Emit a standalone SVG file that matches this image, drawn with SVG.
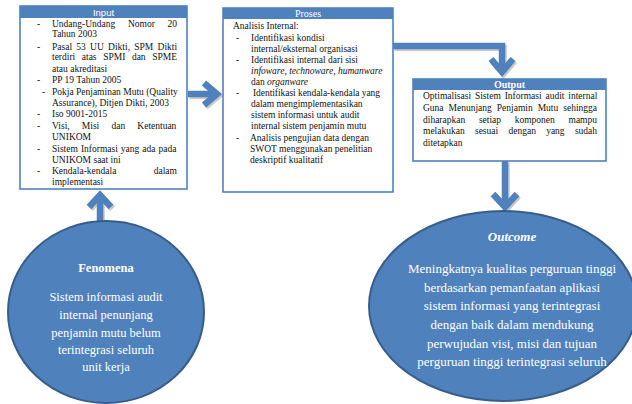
<svg xmlns="http://www.w3.org/2000/svg" width="632" height="404" viewBox="0 0 632 404">
  <style>
    .box { fill: #ffffff; stroke: #4f81bd; stroke-width: 1.6; }
    .hdr { fill: #4f81bd; }
    .ht { font-family: "Liberation Serif", serif; font-size: 10px; fill: #ffffff; text-anchor: middle; }
    .hs { font-family: "Liberation Sans", Arial, sans-serif; font-size: 9.5px; fill: #ffffff; text-anchor: middle; }
    .t { font-family: "Liberation Serif", serif; font-size: 9.5px; fill: #111111; }
    .e { text-anchor: end; }
    .i { font-style: italic; }
    .blob { fill: #4f81bd; stroke: #385d8a; stroke-width: 2; }
    .bt { font-family: "Liberation Serif", serif; font-size: 12.5px; fill: #ffffff; text-anchor: middle; }
    .ot { font-size: 13px; }
    .arr { fill: none; stroke: #4f81bd; stroke-width: 6.5; stroke-linejoin: miter; stroke-linecap: butt; }
    .sh { fill: none; stroke: #9a9a9a; stroke-opacity: 0.55; stroke-width: 6.5; stroke-linejoin: miter; }
  </style>

  <!-- connectors -->
  <g id="connectors">
    <g transform="translate(1.5,1.8)">
      <path class="sh" d="M188,94 H215"/>
      <path class="sh" d="M204,83 L217,94 L204,105"/>
      <path class="sh" d="M393,46 H502 V71"/>
      <path class="sh" d="M491,59 L502,72 L513,59"/>
      <path class="sh" d="M505,161 V206"/>
      <path class="sh" d="M493,194 L505,207 L517,194"/>
      <path class="sh" d="M100,222 V196"/>
      <path class="sh" d="M89,207 L100,195 L111,207"/>
    </g>
    <path class="arr" d="M188,94 H215"/>
    <path class="arr" d="M204,83 L217,94 L204,105"/>
    <path class="arr" d="M393,46 H502 V71"/>
    <path class="arr" d="M491,59 L502,72 L513,59"/>
    <path class="arr" d="M505,161 V206"/>
    <path class="arr" d="M493,194 L505,207 L517,194"/>
    <path class="arr" d="M100,222 V196"/>
    <path class="arr" d="M89,207 L100,195 L111,207"/>
  </g>

  <!-- Input -->
  <g id="input">
    <rect class="box" x="20" y="6" width="167" height="183"/>
    <rect class="hdr" x="20" y="6" width="167" height="12"/>
    <text class="hs" x="103.5" y="15.5">Input</text>
    <g class="t">
      <text x="37" y="27">-</text>
      <text x="52" y="27" word-spacing="10.3">Undang-Undang Nomor 20</text>
      <text x="52" y="37">Tahun 2003</text>
      <text x="37" y="50">-</text>
      <text x="52" y="50" word-spacing="1.9">Pasal 53 UU Dikti, SPM Dikti</text>
      <text x="52" y="60" word-spacing="4.2">terdiri atas SPMI dan SPME</text>
      <text x="52" y="72">atau akreditasi</text>
      <text x="37" y="83">-</text>
      <text x="52" y="83">PP 19 Tahun 2005</text>
      <text x="42" y="95">-</text>
      <text x="52" y="95">Pokja Penjaminan Mutu (Quality</text>
      <text x="52" y="106">Assurance), Ditjen Dikti, 2003</text>
      <text x="37" y="117">-</text>
      <text x="52" y="117">Iso 9001-2015</text>
      <text x="37" y="129">-</text>
      <text x="52" y="129" word-spacing="9.8">Visi, Misi dan Ketentuan</text>
      <text x="52" y="140">UNIKOM</text>
      <text x="37" y="152">-</text>
      <text x="52" y="152" word-spacing="0.65">Sistem Informasi yang ada pada</text>
      <text x="52" y="163">UNIKOM saat ini</text>
      <text x="37" y="174">-</text>
      <text x="52" y="174" word-spacing="35">Kendala-kendala dalam</text>
      <text x="52" y="185">implementasi</text>
    </g>
  </g>

  <!-- Proses -->
  <g id="proses">
    <rect class="box" x="223" y="8" width="170" height="184"/>
    <rect class="hdr" x="223" y="8" width="170" height="11"/>
    <text class="ht" x="308" y="16.5">Proses</text>
    <g class="t">
      <text x="233" y="29">Analisis Internal:</text>
      <text x="236" y="41">-</text>
      <text x="251" y="41">Identifikasi kondisi</text>
      <text x="251" y="52">internal/eksternal organisasi</text>
      <text x="236" y="63">-</text>
      <text x="251" y="63">Identifikasi internal dari sisi</text>
      <text class="i" x="251" y="74">infoware, technoware, humanware</text>
      <text x="251" y="85">dan <tspan class="i">organware</tspan></text>
      <text x="236" y="96">-</text>
      <text x="253" y="96" textLength="127" lengthAdjust="spacing">Identifikasi kendala-kendala yang</text>
      <text x="251" y="107">dalam mengimplementasikan</text>
      <text x="251" y="118">sistem informasi untuk audit</text>
      <text x="251" y="129">internal sistem penjamin mutu</text>
      <text x="236" y="141">-</text>
      <text x="250" y="141">Analisis pengujian data dengan</text>
      <text x="250" y="152">SWOT menggunakan penelitian</text>
      <text x="250" y="163">deskriptif kualitatif</text>
    </g>
  </g>

  <!-- Output -->
  <g id="output">
    <rect class="box" x="413" y="79" width="193" height="82"/>
    <rect class="hdr" x="413" y="79" width="193" height="11"/>
    <text class="ht" x="509.5" y="88" font-weight="bold">Output</text>
    <g class="t">
      <text x="423" y="98.5" word-spacing="1.5">Optimalisasi Sistem Informasi audit internal</text>
      <text x="423" y="110.5" word-spacing="2.6">Guna Menunjang Penjamin Mutu sehingga</text>
      <text x="423" y="122.5" word-spacing="11.3">diharapkan setiap komponen mampu</text>
      <text x="423" y="134" word-spacing="7.9">melakukan sesuai dengan yang sudah</text>
      <text x="423" y="145.5">ditetapkan</text>
    </g>
  </g>

  <!-- Fenomena -->
  <g id="fenomena">
    <ellipse class="blob" cx="106" cy="312" rx="98" ry="91"/>
    <text class="bt" x="106" y="272" font-weight="bold">Fenomena</text>
    <text class="bt" x="106" y="301">Sistem informasi audit</text>
    <text class="bt" x="106" y="319">internal penunjang</text>
    <text class="bt" x="106" y="337">penjamin mutu belum</text>
    <text class="bt" x="106" y="354">terintegrasi seluruh</text>
    <text class="bt" x="106" y="371">unit kerja</text>
  </g>

  <!-- Outcome -->
  <g id="outcome">
    <ellipse class="blob" cx="503" cy="306" rx="134" ry="95"/>
    <text class="bt ot" x="512" y="241" font-weight="bold" font-style="italic">Outcome</text>
    <text class="bt ot" x="512" y="273">Meningkatnya kualitas perguruan tinggi</text>
    <text class="bt ot" x="512" y="291.5">berdasarkan pemanfaatan aplikasi</text>
    <text class="bt ot" x="512" y="310">sistem informasi yang terintegrasi</text>
    <text class="bt ot" x="512" y="329">dengan baik dalam mendukung</text>
    <text class="bt ot" x="512" y="347.5">perwujudan visi, misi dan tujuan</text>
    <text class="bt ot" x="512" y="366">perguruan tinggi terintegrasi seluruh</text>
  </g>
</svg>
